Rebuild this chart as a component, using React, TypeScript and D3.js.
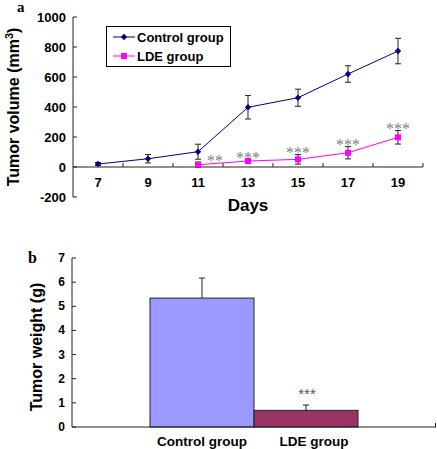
import React from "react";
import * as d3 from "d3";

// ---- Panel a data ----
const days = [7, 9, 11, 13, 15, 17, 19];
const controlVolume = [20, 55, 102, 398, 462, 620, 773];
const controlVolumeErr = [10, 28, 50, 78, 57, 55, 85];
const ldeDays = [11, 13, 15, 17, 19];
const ldeVolume = [15, 40, 51, 95, 198];
const ldeVolumeErr = [18, 12, 32, 41, 45];
const ldeStars = ["**", "***", "***", "***", "***"];
const volumeTicks = [-200, 0, 200, 400, 600, 800, 1000];

// ---- Panel b data ----
const groups = ["Control group", "LDE group"];
const tumorWeight = [5.34, 0.69];
const tumorWeightErr = [0.83, 0.22];
const weightStars = ["", "***"];
const weightTicks = [0, 1, 2, 3, 4, 5, 6, 7];

const SANS = "'Liberation Sans', Arial, Helvetica, sans-serif";
const SERIF = "'Liberation Serif', 'Times New Roman', serif";
const NAVY = "#000080";
const MAGENTA = "#FF00FF";

export default function App() {
  // panel a scales
  const xA = d3.scaleBand<number>().domain(days).range([73, 423]);
  const yA = d3.scaleLinear().domain([-200, 1000]).range([197, 17]);
  const cx = (d: number) => (xA(d) as number) + xA.bandwidth() / 2;

  const ctrlPts = days.map((d, i) => ({ d, v: controlVolume[i], e: controlVolumeErr[i] }));
  const ldePts = ldeDays.map((d, i) => ({ d, v: ldeVolume[i], e: ldeVolumeErr[i], s: ldeStars[i] }));
  const line = d3
    .line<{ d: number; v: number }>()
    .x((p) => cx(p.d))
    .y((p) => yA(p.v));

  // panel b scales
  const xB = d3.scaleBand<string>().domain(groups).range([72, 436]).paddingInner(0).paddingOuter(0.75);
  const yB = d3.scaleLinear().domain([0, 7]).range([427, 258]);
  const barColors = ["#9999FF", "#993366"];
  const labelShift = [0, 8];

  const starDx: Record<number, number> = { 11: 17 };

  return (
    <svg
      width={437}
      height={449}
      style={{ position: "absolute", left: 0, top: 0, background: "#fff" }}
    >
      <rect x={0} y={0} width={437} height={449} fill="#fff" />
      {/* ================= Panel a ================= */}
      <text x={17} y={12} fontFamily={SERIF} fontWeight="bold" fontSize={15}>a</text>

      {/* y axis */}
      <line x1={73} x2={73} y1={yA(1000)} y2={yA(-200)} stroke="#222" strokeWidth={1} />
      {volumeTicks.map((t) => (
        <g key={t}>
          <line x1={73} x2={77} y1={yA(t)} y2={yA(t)} stroke="#222" />
          <text
            x={66}
            y={yA(t) + 4.5}
            textAnchor="end"
            fontFamily={SANS}
            fontWeight="bold"
            fontSize={13}
          >
            {t}
          </text>
        </g>
      ))}
      {/* x axis at zero */}
      <line x1={73} x2={423} y1={yA(0)} y2={yA(0)} stroke="#222" />
      {days.map((d) => (
        <g key={d}>
          <line
            x1={(xA(d) as number) + xA.bandwidth()}
            x2={(xA(d) as number) + xA.bandwidth()}
            y1={yA(0)}
            y2={yA(0) - 4}
            stroke="#222"
          />
          <text x={cx(d)} y={187} textAnchor="middle" fontFamily={SANS} fontWeight="bold" fontSize={13}>
            {d}
          </text>
        </g>
      ))}
      <text x={248} y={211} textAnchor="middle" fontFamily={SANS} fontWeight="bold" fontSize={17}>
        Days
      </text>
      <text
        transform="translate(19,107) rotate(-90)"
        textAnchor="middle"
        fontFamily={SANS}
        fontWeight="bold"
        fontSize={16}
      >
        Tumor volume (mm<tspan fontSize={11} dy={-6}>3</tspan>
        <tspan dy={6}>)</tspan>
      </text>

      {/* lines */}
      <path d={line(ctrlPts) || ""} fill="none" stroke={NAVY} strokeWidth={1} />
      <path d={line(ldePts) || ""} fill="none" stroke={MAGENTA} strokeWidth={1} />

      {/* error bars */}
      {[...ctrlPts, ...ldePts].map((p, i) => (
        <g key={"e" + i} stroke="#222" strokeWidth={1}>
          <line x1={cx(p.d)} x2={cx(p.d)} y1={yA(p.v + p.e)} y2={yA(p.v - p.e)} />
          <line x1={cx(p.d) - 3} x2={cx(p.d) + 3} y1={yA(p.v + p.e)} y2={yA(p.v + p.e)} />
          <line x1={cx(p.d) - 3} x2={cx(p.d) + 3} y1={yA(p.v - p.e)} y2={yA(p.v - p.e)} />
        </g>
      ))}

      {/* markers */}
      {ctrlPts.map((p, i) => (
        <path
          key={"c" + i}
          d={d3.symbol(d3.symbolDiamond2, 26)() || ""}
          transform={`translate(${cx(p.d)},${yA(p.v)})`}
          fill={NAVY}
        />
      ))}
      {ldePts.map((p, i) => (
        <rect key={"l" + i} x={cx(p.d) - 3} y={yA(p.v) - 3} width={6} height={6} fill={MAGENTA} />
      ))}

      {/* significance stars */}
      {ldePts.map((p, i) => (
        <text
          key={"s" + i}
          x={cx(p.d) + (starDx[p.d] || 0)}
          y={yA(p.v + p.e) + 3.5}
          textAnchor="middle"
          fontFamily={SERIF}
          fontSize={16}
          fill="#808080"
        >
          {p.s}
        </text>
      ))}

      {/* legend */}
      <rect x={106.5} y={26.5} width={124} height={40} fill="#fff" stroke="#000" strokeWidth={1} />
      <line x1={113} x2={135} y1={37} y2={37} stroke={NAVY} />
      <path d={d3.symbol(d3.symbolDiamond2, 26)() || ""} transform="translate(124,37)" fill={NAVY} />
      <text x={137} y={41.5} fontFamily={SANS} fontWeight="bold" fontSize={13}>Control group</text>
      <line x1={113} x2={135} y1={56} y2={56} stroke={MAGENTA} />
      <rect x={121} y={53} width={6} height={6} fill={MAGENTA} />
      <text x={137} y={60.5} fontFamily={SANS} fontWeight="bold" fontSize={13}>LDE group</text>

      {/* ================= Panel b ================= */}
      <text x={28} y={263} fontFamily={SERIF} fontWeight="bold" fontSize={16}>b</text>

      {groups.map((g, i) => {
        const x0 = xB(g) as number;
        const w = xB.bandwidth();
        const top = yB(tumorWeight[i]);
        const etop = yB(tumorWeight[i] + tumorWeightErr[i]);
        return (
          <g key={g}>
            <rect x={x0} y={top} width={w} height={yB(0) - top} fill={barColors[i]} stroke="#222" strokeWidth={1} />
            <line x1={x0 + w / 2} x2={x0 + w / 2} y1={top} y2={etop} stroke="#222" />
            <line x1={x0 + w / 2 - 3} x2={x0 + w / 2 + 3} y1={etop} y2={etop} stroke="#222" />
            {weightStars[i] && (
              <text
                x={x0 + w / 2 + 1}
                y={etop - 6}
                textAnchor="middle"
                fontFamily={SANS}
                fontSize={15}
                fill="#555"
              >
                {weightStars[i]}
              </text>
            )}
            <text
              x={x0 + w / 2 + labelShift[i]}
              y={446}
              textAnchor="middle"
              fontFamily={SANS}
              fontWeight="bold"
              fontSize={13.5}
            >
              {g}
            </text>
          </g>
        );
      })}

      {/* axes b */}
      <line x1={72} x2={72} y1={yB(7)} y2={yB(0)} stroke="#222" />
      {weightTicks.map((t) => (
        <g key={"wt" + t}>
          <line x1={72} x2={76} y1={yB(t)} y2={yB(t)} stroke="#222" />
          <text x={65} y={yB(t) + 4} textAnchor="end" fontFamily={SANS} fontWeight="bold" fontSize={12}>
            {t}
          </text>
        </g>
      ))}
      <line x1={72} x2={436} y1={yB(0)} y2={yB(0)} stroke="#222" />
      <line x1={435.5} x2={435.5} y1={yB(0)} y2={yB(0) - 4} stroke="#222" />
      <text
        transform="translate(42,347) rotate(-90)"
        textAnchor="middle"
        fontFamily={SANS}
        fontWeight="bold"
        fontSize={16}
      >
        Tumor weight (g)
      </text>
    </svg>
  );
}
